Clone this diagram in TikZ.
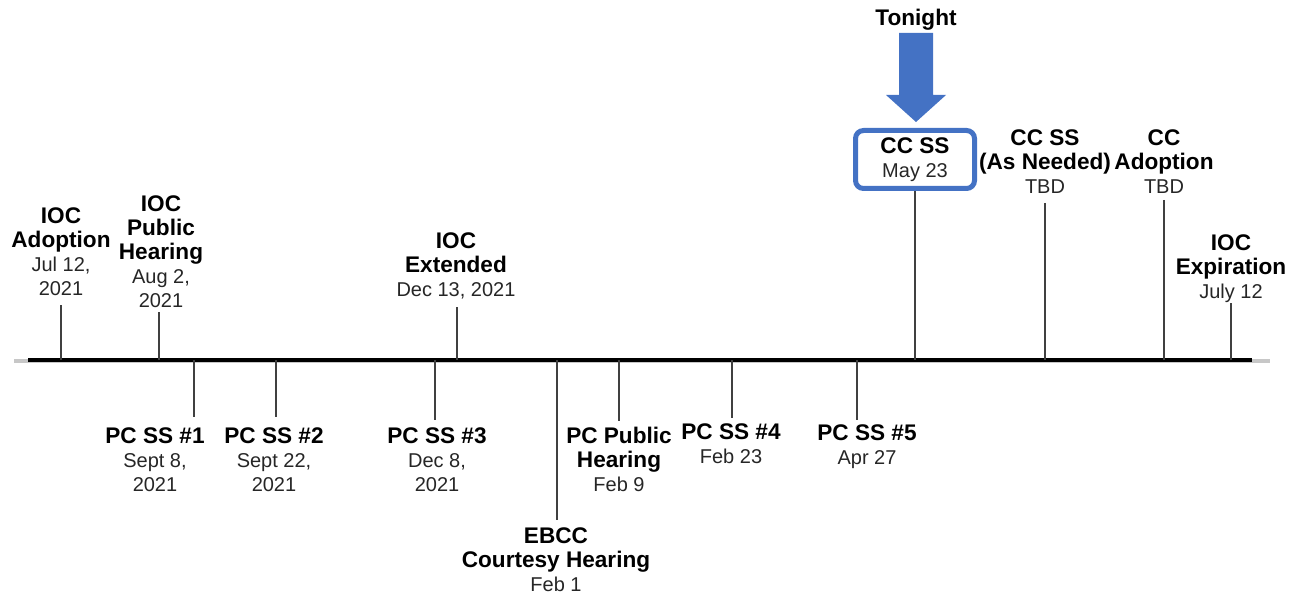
\documentclass[tikz,border=0pt]{standalone}
\usepackage{fontspec}
\setmainfont{Liberation Sans}
\usepackage{xcolor}
\usetikzlibrary{positioning, calc}
\definecolor{tlBlue}{RGB}{68,114,196}
\definecolor{dateGray}{RGB}{38,38,38}
\newcommand{\hd}[1]{{\fontsize{11.3}{12}\selectfont\bfseries\color{black}#1}}

\begin{document}
\begin{tikzpicture}[x=0.5pt, y=-0.5pt,
    evt/.style={align=center, inner sep=0pt, anchor=north, text=dateGray,
        font=\fontsize{10}{12}\selectfont},
    stem/.style={black!75, line width=0.6pt},
    nowbox/.style={draw=tlBlue, line width=2.5pt, rounded corners=4pt, inner sep=0pt,
        minimum width=59.5pt, minimum height=29pt, align=center, text=dateGray,
        font=\fontsize{10}{12}\selectfont}]
    \useasboundingbox (0,0) rectangle (1299,593);
    % timeline with its soft shadow
    \coordinate (tl0) at (28,360);
    \coordinate (tl1) at (1252,360);
    \draw[black!22, line width=2pt] (14,361) -- (1270,361);
    \draw[black, line width=1.7pt] (tl0) -- (tl1);

    % events above the line
    \node[evt] (iocAdopt) at (61,207) {\hd{IOC}\\\hd{Adoption}\\Jul 12,\\2021};
    \coordinate (iocAdoptT) at (61,305);
    \draw[stem] (iocAdoptT) -- (iocAdoptT |- tl0);
    \node[evt] (iocHear) at (161,195) {\hd{IOC}\\\hd{Public}\\\hd{Hearing}\\Aug 2,\\2021};
    \coordinate (iocHearT) at (159,312);
    \draw[stem] (iocHearT) -- (iocHearT |- tl0);
    \node[evt] (iocExt) at (456,232) {\hd{IOC}\\\hd{Extended}\\Dec 13, 2021};
    \coordinate (iocExtT) at (457,307);
    \draw[stem] (iocExtT) -- (iocExtT |- tl0);
    \node[evt] (ccNeed) at (1045,129) {\hd{CC SS}\\\hd{(As Needed)}\\TBD};
    \coordinate (ccNeedT) at (1045,203);
    \draw[stem] (ccNeedT) -- (ccNeedT |- tl0);
    \node[evt] (ccAdopt) at (1164,129) {\hd{CC}\\\hd{Adoption}\\TBD};
    \coordinate (ccAdoptT) at (1164,200);
    \draw[stem] (ccAdoptT) -- (ccAdoptT |- tl0);
    \node[evt] (iocExp) at (1231,234) {\hd{IOC}\\\hd{Expiration}\\July 12};
    \coordinate (iocExpT) at (1231,303);
    \draw[stem] (iocExpT) -- (iocExpT |- tl0);

    % tonight
    \node[nowbox] (now) at (915,159.5) {\hd{CC SS}\\May 23};
    \draw[stem] (now.south) -- (now.south |- tl0);
    \node[inner sep=0pt, font=\fontsize{11.3}{12}\selectfont\bfseries] (tonight) at (916,20) {Tonight};
    \fill[tlBlue] (899,33) -- (933,33) -- (933,95) -- (946,95) -- (916,122)
        -- (886,95) -- (899,95) -- cycle;

    % events below the line
    \node[evt] (pc1) at (155,427) {\hd{PC SS \#1}\\Sept 8,\\2021};
    \coordinate (pc1T) at (194,417);
    \draw[stem] (pc1T |- tl0) -- (pc1T);
    \node[evt] (pc2) at (274,427) {\hd{PC SS \#2}\\Sept 22,\\2021};
    \coordinate (pc2T) at (276,417);
    \draw[stem] (pc2T |- tl0) -- (pc2T);
    \node[evt] (pc3) at (437,427) {\hd{PC SS \#3}\\Dec 8,\\2021};
    \coordinate (pc3T) at (435,420);
    \draw[stem] (pc3T |- tl0) -- (pc3T);
    \node[evt] (ebcc) at (556,527) {\hd{EBCC}\\\hd{Courtesy Hearing}\\Feb 1};
    \coordinate (ebccT) at (557,520);
    \draw[stem] (ebccT |- tl0) -- (ebccT);
    \node[evt] (pcHear) at (619,427) {\hd{PC Public}\\\hd{Hearing}\\Feb 9};
    \coordinate (pcHearT) at (619,421);
    \draw[stem] (pcHearT |- tl0) -- (pcHearT);
    \node[evt] (pc4) at (731,423) {\hd{PC SS \#4}\\Feb 23};
    \coordinate (pc4T) at (732,418);
    \draw[stem] (pc4T |- tl0) -- (pc4T);
    \node[evt] (pc5) at (867,424) {\hd{PC SS \#5}\\Apr 27};
    \coordinate (pc5T) at (857,420);
    \draw[stem] (pc5T |- tl0) -- (pc5T);
\end{tikzpicture}
\end{document}
